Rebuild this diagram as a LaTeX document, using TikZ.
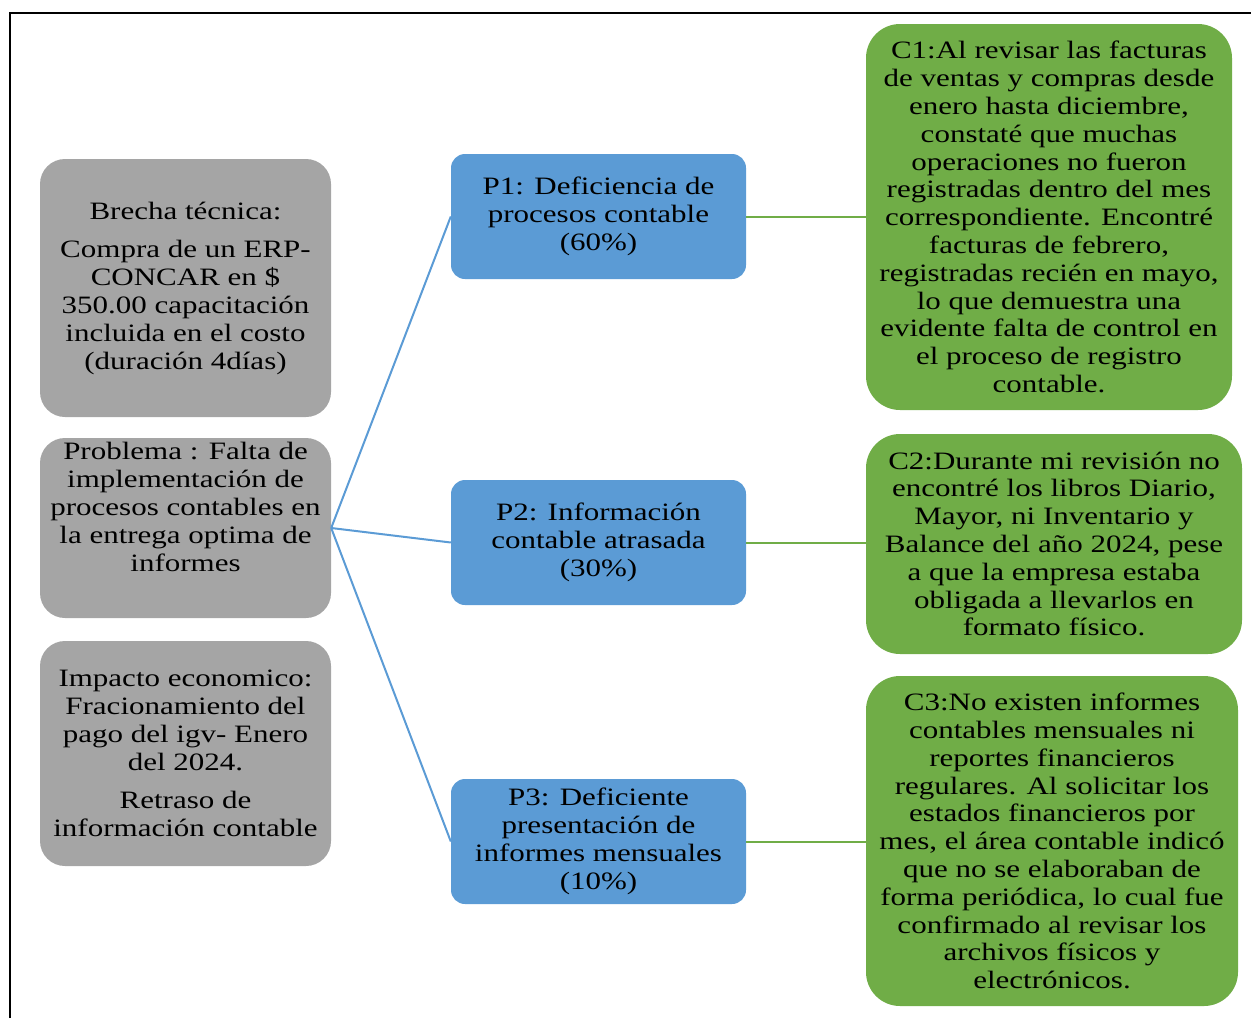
\documentclass[tikz,border=0pt]{standalone}
\usepackage{fontspec}
\setmainfont{Liberation Serif}[FakeStretch=1.24]
\usepackage{tikz}
\definecolor{boxgray}{RGB}{165,165,165}
\definecolor{boxblue}{RGB}{91,155,213}
\definecolor{boxgreen}{RGB}{112,173,71}
\usetikzlibrary{positioning,calc}
\tikzset{%
  box/.style={rectangle, inner sep=0pt, align=center, text=black,
    font=\fontsize{25}{27.8}\selectfont},
  graybox/.style={box, fill=boxgray, rounded corners=25pt, minimum width=291pt},% left column
  bluebox/.style={box, fill=boxblue, rounded corners=14pt, minimum width=295pt, minimum height=125pt},% P1..P3
  greenbox/.style={box, fill=boxgreen, rounded corners=34pt},% C1..C3
  txt/.style={box},% loose text
  blueline/.style={draw=boxblue, line width=2pt},
  greenline/.style={draw=boxgreen, line width=2pt}
}

\begin{document}
\begin{tikzpicture}[x=1pt, y=-1pt]
\useasboundingbox (0,0) rectangle (1251,1018);
\draw[line width=2pt] (9.5,1018) -- (9.5,13) -- (1251,13);

\node[graybox, minimum height=258pt] (brecha) at (185.5,288) {Brecha técnica:\\[11pt] Compra de un ERP-\\ CONCAR en \$\\ 350.00 capacitación\\ incluida en el costo\\ (duración 4días)};
\node[graybox, minimum height=180pt] (prob) at (185.5,528) {};
\node[txt] (probtxt) at (185.5,507) {Problema : Falta de\\ implementación de\\ procesos contables en\\ la entrega optima de\\ informes};
\node[graybox, minimum height=225pt] (impacto) at (185.5,753.5) {Impacto economico:\\ Fracionamiento del\\ pago del igv- Enero\\ del 2024.\\[11pt] Retraso de\\ información contable};

\node[bluebox] (p1) at (598.5,216.5) {P1: Deficiencia de\\ procesos contable\\ (60\%)};
\node[bluebox] (p2) at (598.5,542.5) {P2: Información\\ contable atrasada\\ (30\%)};
\node[bluebox] (p3) at (598.5,841.5) {P3: Deficiente\\ presentación de\\ informes mensuales\\ (10\%)};

\node[greenbox, minimum width=366pt, minimum height=386pt] (c1) at (1049,217) {C1:Al revisar las facturas\\ de ventas y compras desde\\ enero hasta diciembre,\\ constaté que muchas\\ operaciones no fueron\\ registradas dentro del mes\\ correspondiente. Encontré\\ facturas de febrero,\\ registradas recién en mayo,\\ lo que demuestra una\\ evidente falta de control en\\ el proceso de registro\\ contable.};
\node[greenbox, minimum width=376pt, minimum height=220pt] (c2) at (1054,544) {C2:Durante mi revisión no\\ encontré los libros Diario,\\ Mayor, ni Inventario y\\ Balance del año 2024, pese\\ a que la empresa estaba\\ obligada a llevarlos en\\ formato físico.};
\node[greenbox, minimum width=372pt, minimum height=330pt] (c3) at (1052,841) {C3:No existen informes\\ contables mensuales ni\\ reportes financieros\\ regulares. Al solicitar los\\ estados financieros por\\ mes, el área contable indicó\\ que no se elaboraban de\\ forma periódica, lo cual fue\\ confirmado al revisar los\\ archivos físicos y\\ electrónicos.};

\foreach \p in {p1,p2,p3}
  \draw[blueline] (prob.east) -- (\p.west);
\draw[greenline] (p1.east) -- (p1.east -| c1.west);
\draw[greenline] (p2.east) -- (p2.east -| c2.west);
\draw[greenline] (p3.east) -- (p3.east -| c3.west);

\end{tikzpicture}
\end{document}
